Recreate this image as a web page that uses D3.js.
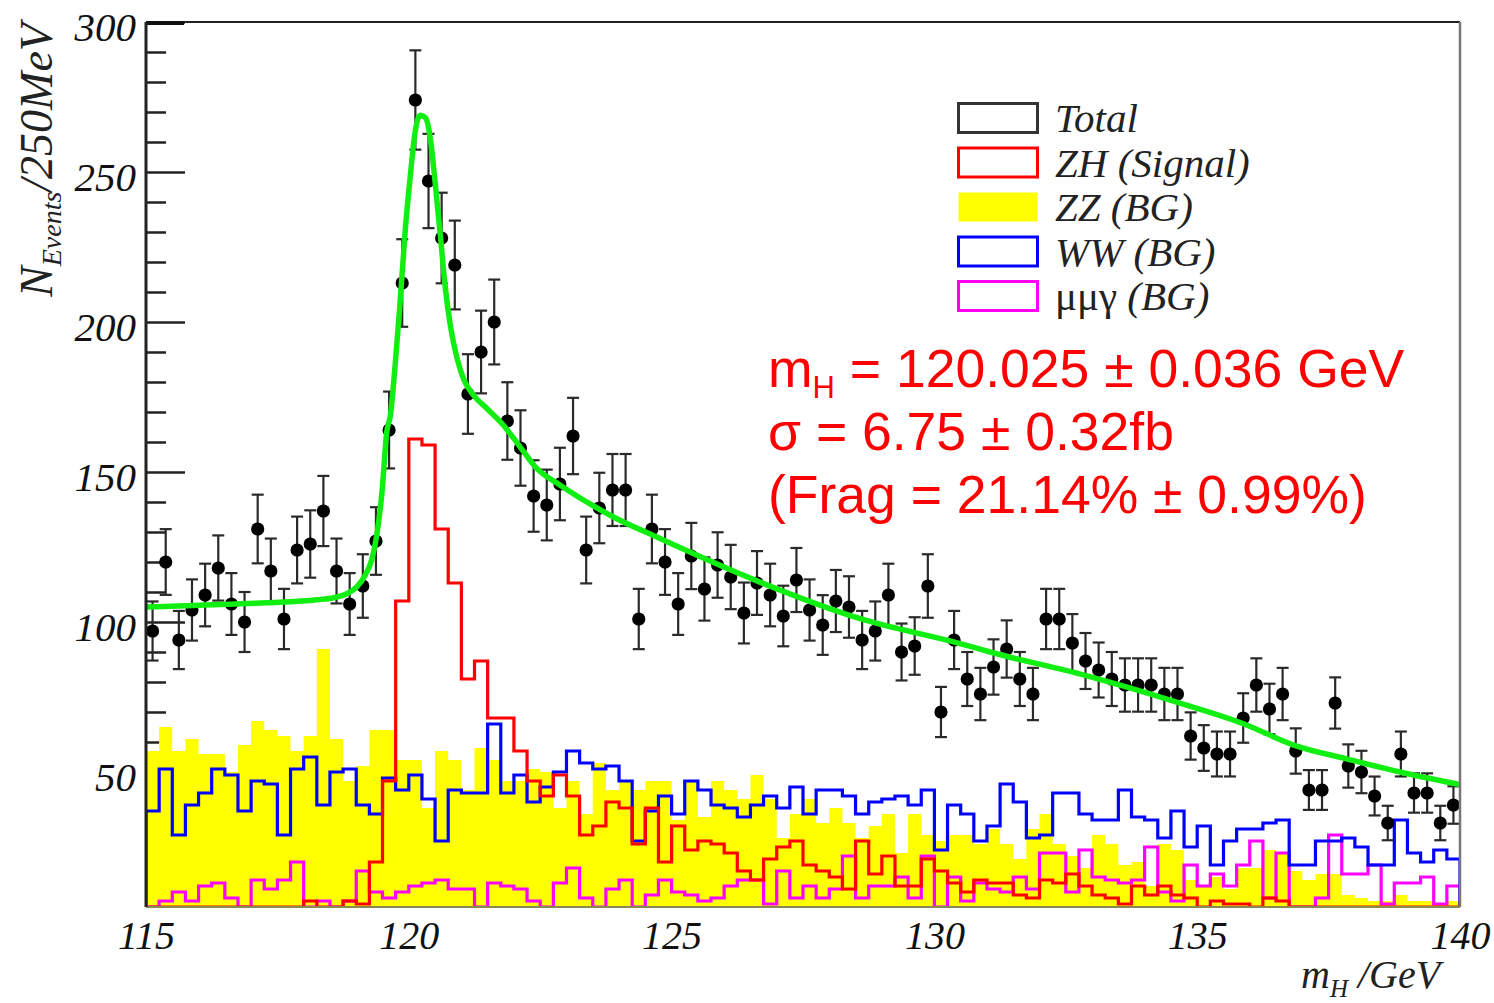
<!DOCTYPE html>
<html>
<head>
<meta charset="utf-8">
<script src="https://cdn.jsdelivr.net/npm/d3@7"></script>
<style>
body { margin: 0; background: #fff; }
</style>
</head>
<body>
<div id="vizContainer"></div>
<script>
// one value per 250 MeV bin, 115 -> 140 GeV (100 bins)
var dataCounts = [97,120,94,104,109,118,106,100,131,117, 101,124,126,137,117,106,112,127,164,213,
    274,247,228,219,176,190,200,167,158,142, 139,146,162,124,138,144,144,101,131,120,
    106,122,111,119,115,103,113,109,102,114, 104,99,107,105,94,97,109,90,92,112,
    70,94,81,76,85,91,81,76,101,101, 93,87,84,81,79,79,79,76,76,62,
    58,56,56,68,79,71,76,57,44,44, 73,52,50,42,33,56,43,43,33,39];

var zzCounts = [57,65,57,61,56,56,50,59,67,64, 62,57,62,91,61,47,52,64,64,54,
    54,38,57,54,44,58,54,47,47,51, 50,38,47,36,53,44,47,44,47,47,
    34,47,35,47,44,41,49,41,28,36, 41,33,38,33,28,32,36,23,36,29,
    27,29,29,26,31,26,21,31,36,26, 22,18,29,26,19,20,12,26,24,14,
    12,15,11,18,18,24,23,17,14,16, 16,9,8,7,7,9,7,7,6,7];

var zhCounts = [0,0,0,0,0,0,0,0,5,0, 0,0,7,5,0,7,6,20,47,107,
    161,159,131,113,81,87,68,68,57,47, 42,49,42,29,32,40,38,26,38,20,
    32,24,27,26,23,17,14,21,25,27, 19,17,15,11,27,16,22,12,12,21,
    17,13,10,14,13,13,9,8,14,13, 16,12,9,8,6,12,9,12,9,8,
    4,7,6,6,4,8,7,5,4,4, 4,4,4,4,4,5,5,5,4,4];

var wwCounts = [37,51,29,39,43,51,49,37,47,46, 29,51,55,39,50,51,39,36,48,44,
    49,41,27,44,43,43,66,43,49,40, 45,50,57,53,51,52,47,27,37,42,
    36,47,44,39,38,35,39,42,38,45, 36,44,44,42,36,40,41,42,39,44,
    24,39,36,27,32,46,40,28,29,43, 43,36,34,34,44,35,34,28,37,25,
    32,19,27,31,31,33,34,19,19,27, 27,28,25,19,19,34,23,20,24,21];

var mmgCounts = [3,7,10,7,12,13,8,5,14,11, 14,20,3,7,3,7,17,10,8,10,
    12,13,14,11,11,5,13,12,11,7, 4,13,18,8,5,11,14,5,9,14,
    10,9,7,8,12,14,14,6,17,8, 12,8,11,22,8,12,12,15,8,22,
    5,15,7,13,11,10,15,11,23,23, 10,24,15,14,13,14,25,10,7,19,
    12,16,12,19,27,8,23,5,5,8, 29,16,16,19,6,13,13,15,6,12];

// fitted total curve
var fitMass = [115.0,116.03,117.3,118.25,118.57,118.82,119.01,119.17,119.3,119.39,
    119.49,119.58,119.65,119.74,119.84,119.93,120.03,120.12,120.22,120.32,
    120.41,120.5,120.6,120.69,120.79,120.92,121.04,121.23,121.49,121.8,
    122.12,122.44,122.88,123.83,124.78,126.68,128.59,130.49,131.06,132.87,
    134.61,135.88,136.85,137.84,138.86,140.0];
var fitValue = [105,105.6,106.4,107.4,108.1,109.4,111.7,115.6,121.1,128.9,
    143.3,163.3,168.9,185.6,207.8,230,248.9,263.3,268.9,268,
    261.1,246.7,228.9,212.2,198.9,187.8,181.1,175.6,171.1,165.6,
    158.3,151.1,145.6,135.6,127.8,113.3,101.1,92.8,90,82.2,
    73.3,66.1,58.9,54.4,50,45.8];

var xTickValues = [115, 120, 125, 130, 135, 140];
var yTickValues = [50, 100, 150, 200, 250, 300];
var yMinorTicks = d3.range(10, 300, 10).filter(function(v){ return v % 50 !== 0; });

var legendLabels = ['Total', 'ZH (Signal)', 'ZZ (BG)', 'WW (BG)', 'μμγ (BG)'];
var legendColours = ['#333333', '#ff0000', '#ffff00', '#0000ff', '#ff00ff'];

var resultLines = ['m|H| = 120.025 ± 0.036 GeV', 'σ = 6.75 ± 0.32fb', '(Frag = 21.14% ± 0.99%)'];

var width = 1494, height = 1003;
var plotLeft = 146, plotRight = 1460, plotTop = 22, plotBottom = 907;
var serif = '"Liberation Serif", "DejaVu Serif", serif';
var sans = '"Liberation Sans", Arial, sans-serif';

var binEdges = d3.range(0, 101).map(function(i){ return 115 + i * 0.25; });

var x = d3.scaleLinear().domain([115, 140]).range([plotLeft, plotRight]);
var y = d3.scaleLinear().domain([5, 300]).range([plotBottom, plotTop]).clamp(true);

var svg = d3.select('#vizContainer').append('svg')
    .attr('width', width)
    .attr('height', height)
    .attr('viewBox', '0 0 ' + width + ' ' + height)
    .style('background', '#fff');

svg.append('clipPath').attr('id', 'plotClip')
    .append('rect')
    .attr('x', plotLeft).attr('y', plotTop)
    .attr('width', plotRight - plotLeft).attr('height', plotBottom - plotTop);

// y ticks go inward, drawn first so the yellow fill hides the low ones
var minorAxis = d3.axisLeft(y).tickValues(yMinorTicks).tickSize(-20).tickFormat('');
svg.append('g').attr('transform', 'translate(' + plotLeft + ',0)').call(minorAxis)
    .call(function(g){ g.select('.domain').remove(); g.selectAll('line').attr('stroke', '#222').attr('stroke-width', 2.5); });

var majorAxis = d3.axisLeft(y).tickValues(yTickValues).tickSize(-39).tickPadding(10);
svg.append('g').attr('transform', 'translate(' + plotLeft + ',0)').call(majorAxis)
    .call(function(g){
        g.select('.domain').remove();
        g.selectAll('line').attr('stroke', '#222').attr('stroke-width', 2.5);
        g.selectAll('text')
            .attr('font-family', serif).attr('font-style', 'italic')
            .attr('font-size', 41).attr('fill', '#111')
            .attr('dy', '0.45em');
    });

// turn a bin array into step outline points
function stepPoints(values){
    var pts = [[binEdges[0], 0]];
    values.forEach(function(v, i){
        pts.push([binEdges[i], v]);
        pts.push([binEdges[i + 1], v]);
    });
    pts.push([binEdges[100], 0]);
    return pts;
}

var plot = svg.append('g').attr('clip-path', 'url(#plotClip)');

var area = d3.area()
    .x(function(d){ return x(d[0]); })
    .y0(y(5))
    .y1(function(d){ return y(d[1]); });

var step = d3.line()
    .x(function(d){ return x(d[0]); })
    .y(function(d){ return y(d[1]); });

plot.append('path').attr('d', area(stepPoints(zzCounts))).attr('fill', '#ffff00');

function addHist(values, colour){
    plot.append('path')
        .attr('d', step(stepPoints(values)))
        .attr('fill', 'none')
        .attr('stroke', colour)
        .attr('stroke-width', 3.2)
        .attr('stroke-linejoin', 'miter');
}
addHist(mmgCounts, '#ff00ff');
addHist(wwCounts, '#0000ff');
addHist(zhCounts, '#ff0000');

// data points with sqrt(N) error bars
var centres = dataCounts.map(function(v, i){ return { m: (binEdges[i] + binEdges[i + 1]) / 2, n: v }; });
var pts = plot.append('g').selectAll('g').data(centres).enter().append('g');
pts.append('line')
    .attr('x1', function(d){ return x(d.m); }).attr('x2', function(d){ return x(d.m); })
    .attr('y1', function(d){ return y(d.n - Math.sqrt(d.n)); })
    .attr('y2', function(d){ return y(d.n + Math.sqrt(d.n)); })
    .attr('stroke', '#2a2a2a').attr('stroke-width', 2.2);
[-1, 1].forEach(function(s){
    pts.append('line')
        .attr('x1', function(d){ return x(d.m) - 6; }).attr('x2', function(d){ return x(d.m) + 6; })
        .attr('y1', function(d){ return y(d.n + s * Math.sqrt(d.n)); })
        .attr('y2', function(d){ return y(d.n + s * Math.sqrt(d.n)); })
        .attr('stroke', '#2a2a2a').attr('stroke-width', 2.2);
});
pts.append('circle')
    .attr('cx', function(d){ return x(d.m); })
    .attr('cy', function(d){ return y(d.n); })
    .attr('r', 6.6).attr('fill', '#000');

// fit curve
var fitLine = d3.line()
    .x(function(d){ return x(d[0]); })
    .y(function(d){ return y(d[1]); })
    .curve(d3.curveMonotoneX);
plot.append('path')
    .attr('d', fitLine(d3.zip(fitMass, fitValue)))
    .attr('fill', 'none').attr('stroke', '#11ee11').attr('stroke-width', 5.5);

// frame
svg.append('line').attr('x1', plotLeft).attr('x2', plotRight).attr('y1', plotTop).attr('y2', plotTop)
    .attr('stroke', '#222').attr('stroke-width', 2);
svg.append('line').attr('x1', plotLeft).attr('x2', plotLeft + 38).attr('y1', plotTop + 1).attr('y2', plotTop + 1)
    .attr('stroke', '#111').attr('stroke-width', 4);
svg.append('line').attr('x1', plotRight).attr('x2', plotRight).attr('y1', plotTop).attr('y2', plotBottom)
    .attr('stroke', '#777').attr('stroke-width', 2.5);
svg.append('line').attr('x1', plotLeft).attr('x2', plotRight).attr('y1', plotBottom).attr('y2', plotBottom)
    .attr('stroke', '#8a8a50').attr('stroke-width', 2);
svg.append('line').attr('x1', plotLeft).attr('x2', plotLeft).attr('y1', plotTop).attr('y2', plotBottom)
    .attr('stroke', '#222').attr('stroke-width', 3);

// x axis labels only, no ticks
var xAxis = d3.axisBottom(x).tickValues(xTickValues).tickSize(0).tickPadding(14);
svg.append('g').attr('transform', 'translate(0,' + plotBottom + ')').call(xAxis)
    .call(function(g){
        g.select('.domain').remove();
        g.selectAll('text')
            .attr('font-family', serif).attr('font-style', 'italic')
            .attr('font-size', 40).attr('fill', '#111');
    });

// axis titles
var yTitle = svg.append('text')
    .attr('transform', 'translate(52,297) rotate(-90)')
    .attr('font-family', serif).attr('font-style', 'italic').attr('fill', '#222')
    .style('white-space', 'pre');
yTitle.append('tspan').attr('font-size', 46).text('N');
yTitle.append('tspan').attr('font-size', 28).attr('dy', 9).text('Events');
yTitle.append('tspan').attr('font-size', 46).attr('dy', -9).text('/250MeV');

var xTitle = svg.append('text')
    .attr('x', 1301).attr('y', 988)
    .attr('font-family', serif).attr('font-style', 'italic').attr('fill', '#222')
    .style('white-space', 'pre');
xTitle.append('tspan').attr('font-size', 40).text('m');
xTitle.append('tspan').attr('font-size', 25).attr('dy', 9).text('H');
xTitle.append('tspan').attr('font-size', 40).attr('dy', -9).text(' /GeV');

// legend
var legend = svg.append('g').attr('transform', 'translate(957,118)');
var rows = legend.selectAll('g').data(legendLabels).enter().append('g')
    .attr('transform', function(d, i){ return 'translate(0,' + (i * 44.5) + ')'; });
rows.append('rect')
    .attr('x', 1.5).attr('y', -14.5).attr('width', 79).attr('height', 29)
    .attr('fill', function(d, i){ return i === 2 ? legendColours[i] : 'none'; })
    .attr('stroke', function(d, i){ return i === 2 ? 'none' : legendColours[i]; })
    .attr('stroke-width', 3);
rows.each(function(d){
    var t = d3.select(this).append('text')
        .attr('x', 98).attr('y', 14)
        .attr('font-family', serif).attr('font-size', 41).attr('fill', '#222')
        .style('white-space', 'pre');
    if (d.indexOf('μμγ') === 0) {
        t.append('tspan').attr('font-style', 'normal').text('μμγ');
        t.append('tspan').attr('font-style', 'italic').text(d.slice(3));
    } else {
        t.attr('font-style', 'italic').text(d);
    }
});

// fit result text
resultLines.forEach(function(line, i){
    var t = svg.append('text')
        .attr('x', 768).attr('y', 387 + i * 63)
        .attr('font-family', sans).attr('font-size', 53.5).attr('fill', '#ff0000')
        .style('white-space', 'pre');
    var parts = line.split('|');
    t.append('tspan').text(parts[0]);
    if (parts.length > 1) {
        t.append('tspan').attr('font-size', 31).attr('dy', 11).text(parts[1]);
        t.append('tspan').attr('dy', -11).text(parts[2]);
    }
});
</script>
</body>
</html>
